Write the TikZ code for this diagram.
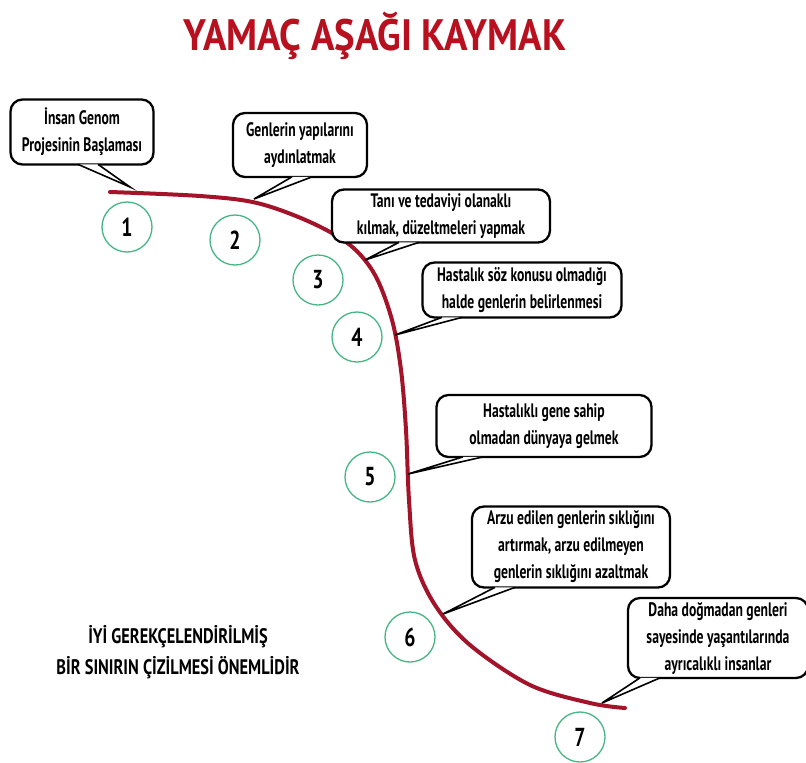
\documentclass[tikz,border=0pt]{standalone}
\usepackage{fontspec}
\setmainfont{PT Sans}[FakeStretch=0.76]
\newfontfamily\bubblefont{PT Sans Bold}[FakeStretch=0.7]
\newfontfamily\titlefont{PT Sans Bold}[FakeStretch=0.88]
\newfontfamily\notefont{PT Sans Bold}[FakeStretch=0.78]
\definecolor{slope}{HTML}{A3142A}
\definecolor{titlered}{HTML}{B8101F}
\definecolor{ringgreen}{HTML}{45B583}
\tikzset{
  bubble/.style={draw=black, line width=2.3pt, rounded corners=12pt, fill=white,
                 align=center, inner sep=0pt, font=\bubblefont\fontsize{19.5}{27}\selectfont},
  tail/.style={draw=black, line width=1.6pt, fill=white, line join=miter},
  ring/.style={circle, draw=ringgreen, line width=1.3pt, minimum size=50pt,
               inner sep=0pt, font=\bfseries\fontsize{26}{26}\selectfont},
  note/.style={align=center, font=\notefont\fontsize{21}{31}\selectfont}
}
\begin{document}
\begin{tikzpicture}[x=1pt, y=-1pt]
    \useasboundingbox (0,0) rectangle (806,763);
    % title
    \node[anchor=base, text=titlered, font=\titlefont\fontsize{44}{46}\selectfont]
      (title) at (375,50) {YAMAÇ AŞAĞI KAYMAK};
    % the slope
    \draw[slope, line width=4pt, line cap=round] plot[smooth, tension=0.55] coordinates {
      (110,192) (200,196) (257,203) (310,222) (350,245) (375,275) (392,320)
      (401,370) (406,430) (409,500) (415,560) (435,605) (470,645) (530,685)
      (590,703) (625,708)};
    % where the tails touch the slope
    \foreach \i/\x/\y in {1/130/187, 2/254/199, 3/365/260, 4/395/335,
                          5/408/474, 6/443/614, 7/602/703}
      \coordinate (t\i) at (\x,\y);
    % numbered rings
    \foreach \i/\x/\y in {1/127/227, 2/235/240, 3/318/280, 4/357/337,
                          5/370/477, 6/410/637, 7/580/737}
      \node[ring] (r\i) at (\x,\y) {\i};
    % speech bubbles
    \foreach \i/\x/\y/\w/\h/\b/\txt in {
        1/82/132/143/65/6/{İnsan Genom\\Projesinin Başlaması},
        2/300/145/134/64/2/{Genlerin yapılarını\\aydınlatmak},
        3/441/216/218/53/-32/{Tanı ve tedaviyi olanaklı\\kılmak, düzeltmeleri yapmak},
        4/522/290/199/55/-70/{Hastalık söz konusu olmadığı\\halde genlerin belirlenmesi},
        5/544/426/215/62/-71/{Hastalıklı gene sahip\\olmadan dünyaya gelmek},
        6/571/547/198/81/-66/{Arzu edilen genlerin sıklığını\\artırmak, arzu edilmeyen\\genlerin sıklığını azaltmak},
        7/718/638/180/80/-68/{Daha doğmadan genleri\\sayesinde yaşantılarında\\ayrıcalıklı insanlar}} {
      \node[bubble, minimum width=\w pt, minimum height=\h pt] (c\i) at (\x,\y) {\txt};
      \path[tail] ([xshift={\b-10}, yshift=1.3pt]c\i.south) -- (t\i)
                  -- ([xshift={\b+10}, yshift=1.3pt]c\i.south);
    }
    % closing remark
    \node[note] (note) at (178,652) {İYİ GEREKÇELENDİRİLMİŞ\\BİR SINIRIN ÇİZİLMESİ ÖNEMLİDİR};
\end{tikzpicture}
\end{document}
